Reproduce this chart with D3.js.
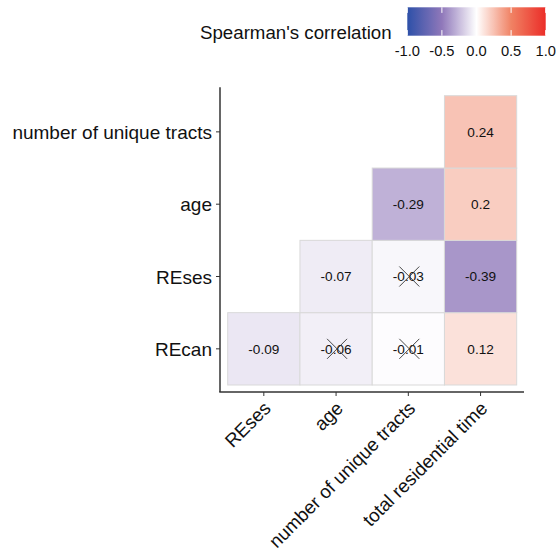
<!DOCTYPE html>
<html>
<head>
<meta charset="utf-8">
<script src="https://cdn.jsdelivr.net/npm/d3@7"></script>
<style>
  html, body { margin: 0; padding: 0; background: #fff; }
  svg { display: block; font-family: "Liberation Sans", Arial, sans-serif; }
</style>
</head>
<body>
<svg id="chart" width="558" height="554"></svg>
<script>
// ---- data ----
const xCategories = ["REses", "age", "number of unique tracts", "total residential time"];
const yCategories = ["REcan", "REses", "age", "number of unique tracts"]; // bottom -> top
const cellX = ["REses", "age", "number of unique tracts", "total residential time",
               "age", "number of unique tracts", "total residential time",
               "number of unique tracts", "total residential time",
               "total residential time"];
const cellY = ["REcan", "REcan", "REcan", "REcan",
               "REses", "REses", "REses",
               "age", "age",
               "number of unique tracts"];
const corrValues = [-0.09, -0.06, -0.01, 0.12,
                    -0.07, -0.03, -0.39,
                    -0.29, 0.2,
                    0.24];
const notSignificant = [false, true, true, false,
                        false, true, false,
                        false, false,
                        false];
const legendTicks = [-1, -0.5, 0, 0.5, 1];
const legendTickLabels = ["-1.0", "-0.5", "0.0", "0.5", "1.0"];
const legendTitle = "Spearman's correlation";

// ---- scales ----
const svg = d3.select("#chart");
const x = d3.scaleBand().domain(xCategories).range([227.7, 516.7]).padding(0);
const y = d3.scaleBand().domain(yCategories).range([385, 95.7]).padding(0);
const color = d3.scaleLinear()
  .domain([-1, -0.5, 0, 0.5, 1])
  .range(["#2d50a8", "#9078ba", "#ffffff", "#f08264", "#eb2d28"])
  .interpolate(d3.interpolateRgb)
  .clamp(true);

const cells = corrValues.map((v, i) => ({ x: cellX[i], y: cellY[i], v, ns: notSignificant[i] }));

// ---- tiles ----
const gCells = svg.append("g");
gCells.selectAll("rect").data(cells).join("rect")
  .attr("x", d => x(d.x))
  .attr("y", d => y(d.y))
  .attr("width", x.bandwidth())
  .attr("height", y.bandwidth())
  .attr("fill", d => color(d.v))
  .attr("stroke", "#d9d9d9")
  .attr("stroke-width", 1);

gCells.selectAll("text").data(cells).join("text")
  .attr("x", d => x(d.x) + x.bandwidth() / 2)
  .attr("y", d => y(d.y) + y.bandwidth() / 2)
  .attr("dy", "0.36em")
  .attr("text-anchor", "middle")
  .attr("font-size", "13.6px")
  .attr("fill", "#111")
  .text(d => String(d.v));

const crossR = 10;
const crosses = gCells.selectAll("g.cross").data(cells.filter(d => d.ns)).join("g")
  .attr("class", "cross")
  .attr("transform", d => `translate(${x(d.x) + x.bandwidth() / 2 + 1},${y(d.y) + y.bandwidth() / 2})`);
crosses.append("line").attr("x1", -crossR).attr("y1", -crossR).attr("x2", crossR).attr("y2", crossR);
crosses.append("line").attr("x1", -crossR).attr("y1", crossR).attr("x2", crossR).attr("y2", -crossR);
crosses.selectAll("line").attr("stroke", "#333").attr("stroke-width", 0.9);

// ---- axes ----
const axisX0 = 220, axisX1 = 524, axisY0 = 87.3, axisY1 = 392;

const yAxis = svg.append("g").attr("transform", `translate(${axisX0},0)`)
  .call(d3.axisLeft(y).tickSize(4).tickSizeOuter(0).tickPadding(4));
yAxis.select(".domain").remove();
yAxis.selectAll(".tick line").attr("stroke", "#333");
yAxis.selectAll(".tick text")
  .attr("font-size", "19px")
  .attr("fill", "#111")
  .attr("font-family", "'Liberation Sans', Arial, sans-serif")
  .attr("dy", "0.37em");

const xAxis = svg.append("g").attr("transform", `translate(0,${axisY1})`)
  .call(d3.axisBottom(x).tickSize(4).tickSizeOuter(0));
xAxis.select(".domain").remove();
xAxis.selectAll(".tick line").attr("stroke", "#333");
xAxis.selectAll(".tick text")
  .attr("font-size", "18.8px")
  .attr("fill", "#111")
  .attr("font-family", "'Liberation Sans', Arial, sans-serif")
  .attr("x", 0).attr("y", 0).attr("dy", 0)
  .attr("text-anchor", "end")
  .attr("transform", "translate(8,17.5) rotate(-45)");

svg.append("line").attr("x1", axisX0).attr("x2", axisX0).attr("y1", axisY0).attr("y2", axisY1)
  .attr("stroke", "#333").attr("stroke-width", 1.5);
svg.append("line").attr("x1", axisX0 - 0.75).attr("x2", axisX1).attr("y1", axisY1).attr("y2", axisY1)
  .attr("stroke", "#333").attr("stroke-width", 1.5);

// ---- legend ----
const lx = d3.scaleLinear().domain([-1, 1]).range([407.3, 545.7]);
const barY = 7.3, barH = 28.4;
const defs = svg.append("defs");
const grad = defs.append("linearGradient").attr("id", "cbar").attr("x1", "0%").attr("x2", "100%");
d3.range(0, 41).forEach(i => {
  const v = -1 + i / 20;
  grad.append("stop").attr("offset", `${(i / 40) * 100}%`).attr("stop-color", color(v));
});
svg.append("rect").attr("x", lx(-1)).attr("y", barY)
  .attr("width", lx(1) - lx(-1)).attr("height", barH)
  .attr("fill", "url(#cbar)");
const lt = svg.append("g");
legendTicks.forEach(t => {
  lt.append("line").attr("x1", lx(t)).attr("x2", lx(t)).attr("y1", barY).attr("y2", barY + 5.6)
    .attr("stroke", "#fff").attr("stroke-width", 1);
  lt.append("line").attr("x1", lx(t)).attr("x2", lx(t)).attr("y1", barY + barH - 5.6).attr("y2", barY + barH)
    .attr("stroke", "#fff").attr("stroke-width", 1);
});
lt.selectAll("text").data(legendTicks).join("text")
  .attr("x", d => lx(d))
  .attr("y", 56)
  .attr("text-anchor", "middle")
  .attr("font-size", "14.7px")
  .attr("fill", "#111")
  .text((d, i) => legendTickLabels[i]);
svg.append("text").attr("x", 200).attr("y", 39.3)
  .attr("font-size", "18.7px")
  .attr("fill", "#111")
  .text(legendTitle);
</script>
</body>
</html>
